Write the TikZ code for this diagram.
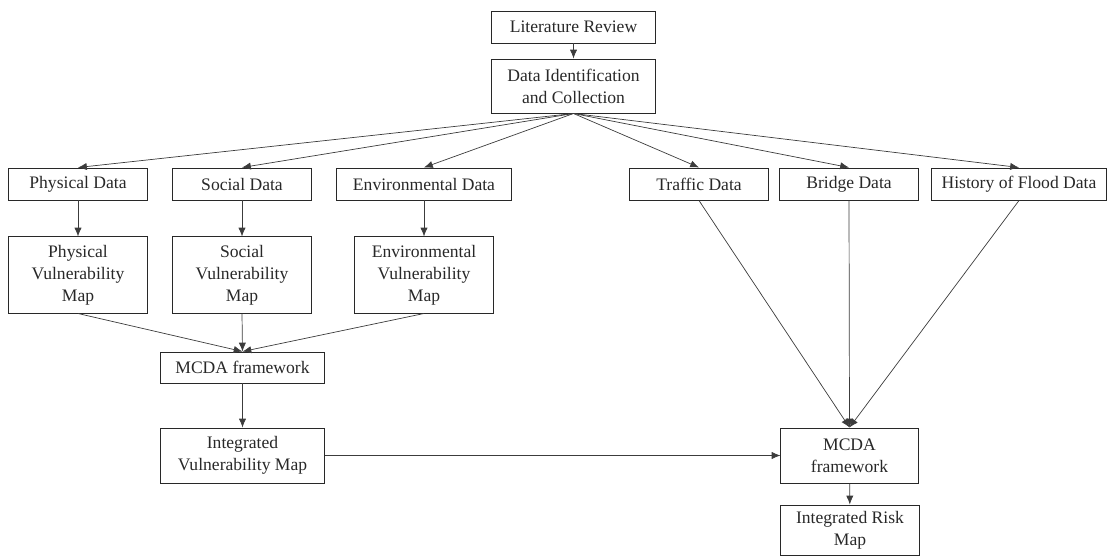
\documentclass[tikz,border=0pt]{standalone}
\usepackage{fontspec}
\setmainfont{Liberation Serif}
\usetikzlibrary{arrows.meta}
\definecolor{lineclr}{RGB}{60,60,60}
\definecolor{boxclr}{RGB}{40,40,40}

\tikzset{
  box/.style={draw=boxclr, line width=0.7pt, align=center, inner sep=0pt,
    minimum width=3.45cm, minimum height=0.8cm, text=boxclr,
    font=\rmfamily\fontsize{12.5}{15.6}\selectfont},
  arr/.style={-{Latex[length=2.2mm,width=1.8mm]}, line width=0.5pt, color=lineclr},
}

\begin{document}
\begin{tikzpicture}[x=0.025cm, y=-0.025cm]
\useasboundingbox (0,0) rectangle (1112,558);

% top of the chart
\node[box, minimum width=4.075cm] (lit) at (573.5,27) {Literature Review};
\node[box, minimum width=4.075cm, minimum height=1.35cm] (dataid) at (573.5,86) {Data Identification\\and Collection};

% data boxes
\node[box] (phys) at (78,184) {Physical Data};
\node[box] (soc) at (242,184) {Social Data};
\node[box, minimum width=4.35cm] (env) at (424,184) {Environmental Data};
\node[box] (traf) at (699,184) {Traffic Data};
\node[box] (brid) at (849,184) {Bridge Data};
\node[box, minimum width=4.35cm] (hist) at (1019,184) {History of Flood Data};

% vulnerability maps
\node[box, minimum height=1.9cm] (physmap) at (78,275) {Physical\\Vulnerability\\Map};
\node[box, minimum height=1.9cm] (socmap) at (242,275) {Social\\Vulnerability\\Map};
\node[box, minimum height=1.9cm] (envmap) at (424,275) {Environmental\\Vulnerability\\Map};

\node[box, minimum width=4.075cm, minimum height=0.775cm] (mcdaL) at (242.5,367.5) {MCDA framework};
\node[box, minimum width=4.075cm, minimum height=1.375cm] (intvul) at (242.5,455.5) {Integrated\\Vulnerability Map};
\node[box, minimum width=3.425cm, minimum height=1.375cm] (mcdaR) at (849.5,455.5) {MCDA\\framework};
\node[box, minimum height=1.25cm] (risk) at (850,530) {Integrated Risk\\Map};

% connectors
\draw[arr] (lit) -- (dataid);
\foreach \n in {phys,soc,env,traf,brid,hist}
  \draw[arr] (dataid.south) -- (\n.north);
\draw[arr] (phys) -- (physmap);
\draw[arr] (soc) -- (socmap);
\draw[arr] (env) -- (envmap);
\foreach \n in {physmap,socmap,envmap}
  \draw[arr] (\n.south) -- (mcdaL.north);
\draw[arr] (mcdaL) -- (intvul);
\foreach \n in {traf,brid,hist}
  \draw[arr] (\n.south) -- (mcdaR.north);
\draw[arr] (intvul) -- (mcdaR);
\draw[arr] (mcdaR) -- (risk);

\end{tikzpicture}
\end{document}
